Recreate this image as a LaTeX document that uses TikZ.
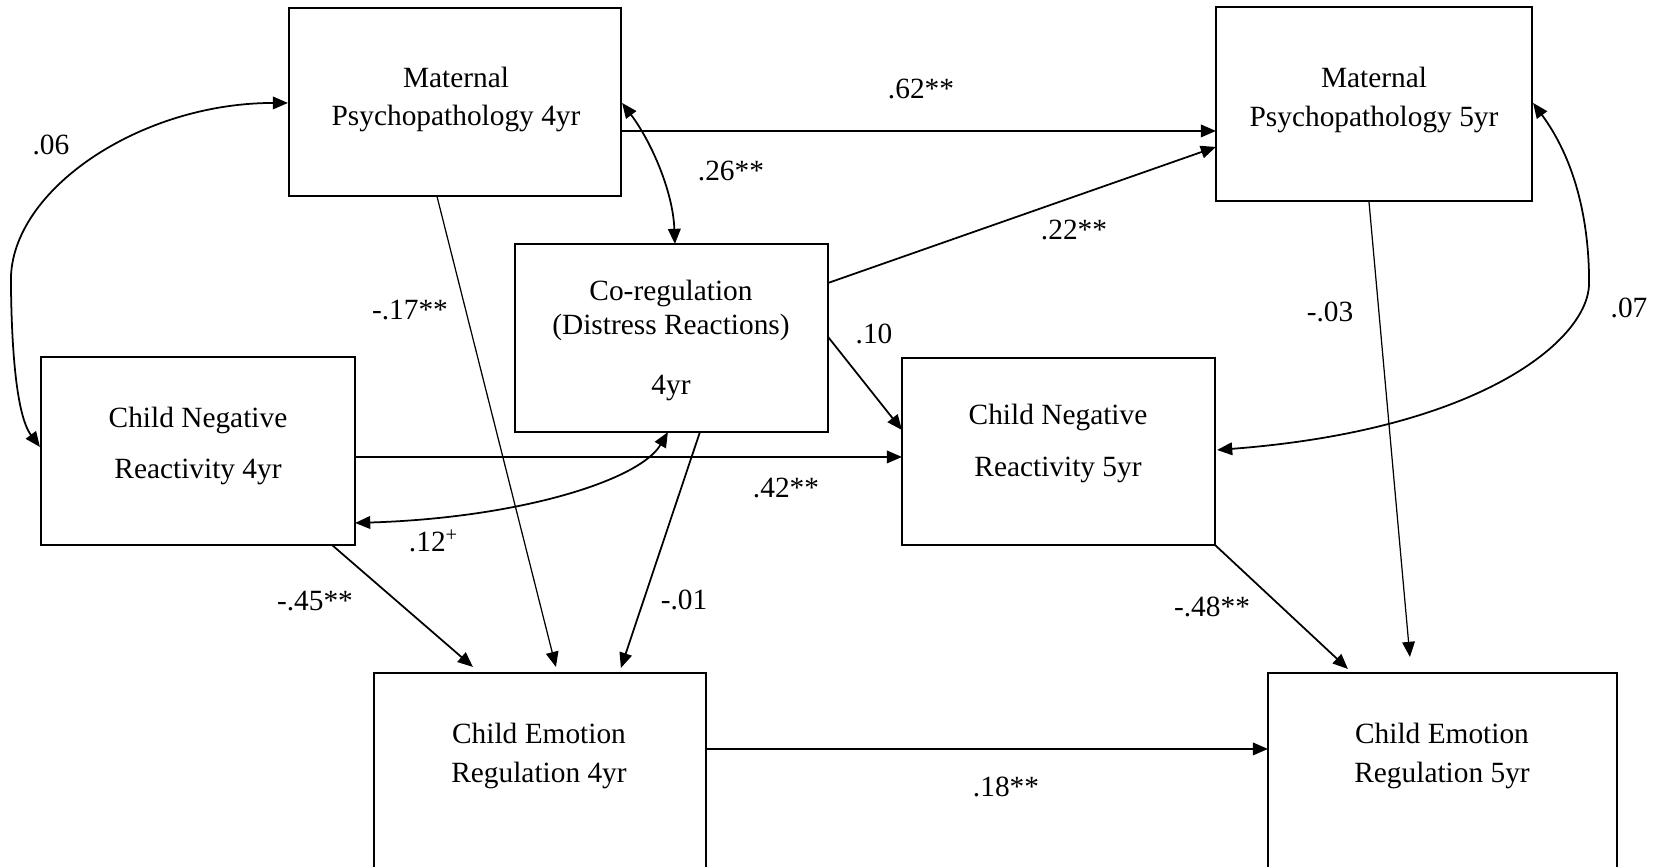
\documentclass[tikz,border=0pt]{standalone}
\usepackage{fontspec}
\setmainfont{Liberation Serif}
\usetikzlibrary{arrows.meta,calc}
\begin{document}
\begin{tikzpicture}[x=0.01cm,y=-0.01cm,
  box/.style={draw, line width=0.6pt, rectangle, inner sep=0pt, outer sep=0pt},
  txt/.style={anchor=base, inner sep=0pt, font=\fontsize{8.35pt}{10pt}\selectfont},
  lbl/.style={inner sep=0pt, font=\fontsize{8.35pt}{10pt}\selectfont},
  arr/.style={line width=0.5pt, -{Triangle[length=4.3pt,width=3.6pt]}},
  darr/.style={line width=0.5pt, {Triangle[length=4.3pt,width=3.6pt]}-{Triangle[length=4.3pt,width=3.6pt]}},
  fine/.style={line width=0.35pt}]
\path[fill=white] (0,0) rectangle (1655,866);
\useasboundingbox (0,0) rectangle (1655,866);
\clip (0,0) rectangle (1655,866);

% boxes
\node[box, minimum width=3.32cm, minimum height=1.88cm] (MP4) at (455,102) {};
\node[box, minimum width=3.16cm, minimum height=1.94cm] (MP5) at (1374,104) {};
\node[box, minimum width=3.13cm, minimum height=1.88cm] (CR) at (671.5,338) {};
\node[box, minimum width=3.14cm, minimum height=1.88cm] (CNR4) at (198,451) {};
\node[box, minimum width=3.13cm, minimum height=1.87cm] (CNR5) at (1058.5,451.5) {};
\node[box, minimum width=3.32cm, minimum height=2.27cm] (CER4) at (540,786.5) {};
\node[box, minimum width=3.49cm, minimum height=2.27cm] (CER5) at (1442.5,786.5) {};

% box texts
\node[txt] (MP4a) at (456,87) {Maternal};
\node[txt] (MP4b) at (456,125) {Psychopathology 4yr};
\node[txt] (MP5a) at (1374,87) {Maternal};
\node[txt] (MP5b) at (1374,126) {Psychopathology 5yr};
\node[txt] (CRa) at (671,300) {Co-regulation};
\node[txt] (CRb) at (671,334) {(Distress Reactions)};
\node[txt] (CRc) at (671,394) {4yr};
\node[txt] (CNR4a) at (198,427) {Child Negative};
\node[txt] (CNR4b) at (198,478) {Reactivity 4yr};
\node[txt] (CNR5a) at (1058,424) {Child Negative};
\node[txt] (CNR5b) at (1058,476) {Reactivity 5yr};
\node[txt] (CER4a) at (539,743) {Child Emotion};
\node[txt] (CER4b) at (539,782) {Regulation 4yr};
\node[txt] (CER5a) at (1442,743) {Child Emotion};
\node[txt] (CER5b) at (1442,782) {Regulation 5yr};

% straight paths
\draw[arr] ($(MP4.north east)+(0,123)$) -- ($(MP5.north west)+(0,124)$);
\draw[arr,fine] ($(MP4.south west)+(148,0)$) -- ($(CER4.north west)+(182,-6)$);
\draw[arr] ($(CR.north east)+(0,39)$) -- ($(MP5.north west)+(0,140)$);
\draw[arr] ($(CR.north east)+(0,93)$) -- ($(CNR5.north west)+(0,72)$);
\draw[arr] ($(CR.south west)+(185,0)$) -- ($(CER4.north west)+(247,-5)$);
\draw[arr] ($(CNR4.north east)+(0,100)$) -- ($(CNR5.north west)+(0,99)$);
\draw[arr] ($(CNR4.south east)+(-23,0)$) -- ($(CER4.north west)+(99,-6)$);
\draw[arr] ($(CER4.north east)+(0,76)$) -- ($(CER5.north west)+(0,76)$);
\draw[arr,fine] ($(MP5.south west)+(153,0)$) -- ($(CER5.north west)+(142,-16)$);
\draw[arr] (CNR5.south east) -- ($(CER5.north west)+(80,-4)$);

% curved correlations
\draw[darr] ($(MP4.north east)+(1,95)$) .. controls +(28,37) and +(-2,-54) .. ($(CR.north west)+(160,0)$);
\draw[darr] ($(CNR4.north east)+(0,166)$) .. controls +(165,-5) and +(-28,48) .. ($(CR.south west)+(153,0)$);
\draw[darr] ($(MP4.north west)+(-1,95)$) .. controls +(-148,0) and +(0,-90) .. +(-277,177)
   .. controls +(1,120) and +(-15,-20) .. ($(CNR4.north west)+(-1,90)$);
\draw[darr] ($(MP5.north east)+(1,96)$) .. controls +(42,57) and +(0,-63) .. +(56,180)
   .. controls +(0,57) and +(263,-20) .. ($(CNR5.north east)+(2,92)$);

% labels
\node[lbl] (l06) at (51,145) {.06};
\node[lbl] (l62) at (921,89) {.62**};
\node[lbl] (l26) at (731,171) {.26**};
\node[lbl] (l22) at (1074,230) {.22**};
\node[lbl] (l17) at (410,310) {-.17**};
\node[lbl] (l10) at (874,334) {.10};
\node[lbl] (l03) at (1330,312) {-.03};
\node[lbl] (l07) at (1629,308) {.07};
\node[lbl] (l42) at (786,488) {.42**};
\node[lbl] (l12) at (434,541) {.12\textsuperscript{+}};
\node[lbl] (l45) at (315,601) {-.45**};
\node[lbl] (l01) at (684,600) {-.01};
\node[lbl] (l48) at (1212,607) {-.48**};
\node[lbl] (l18) at (1006,787) {.18**};
\end{tikzpicture}
\end{document}
